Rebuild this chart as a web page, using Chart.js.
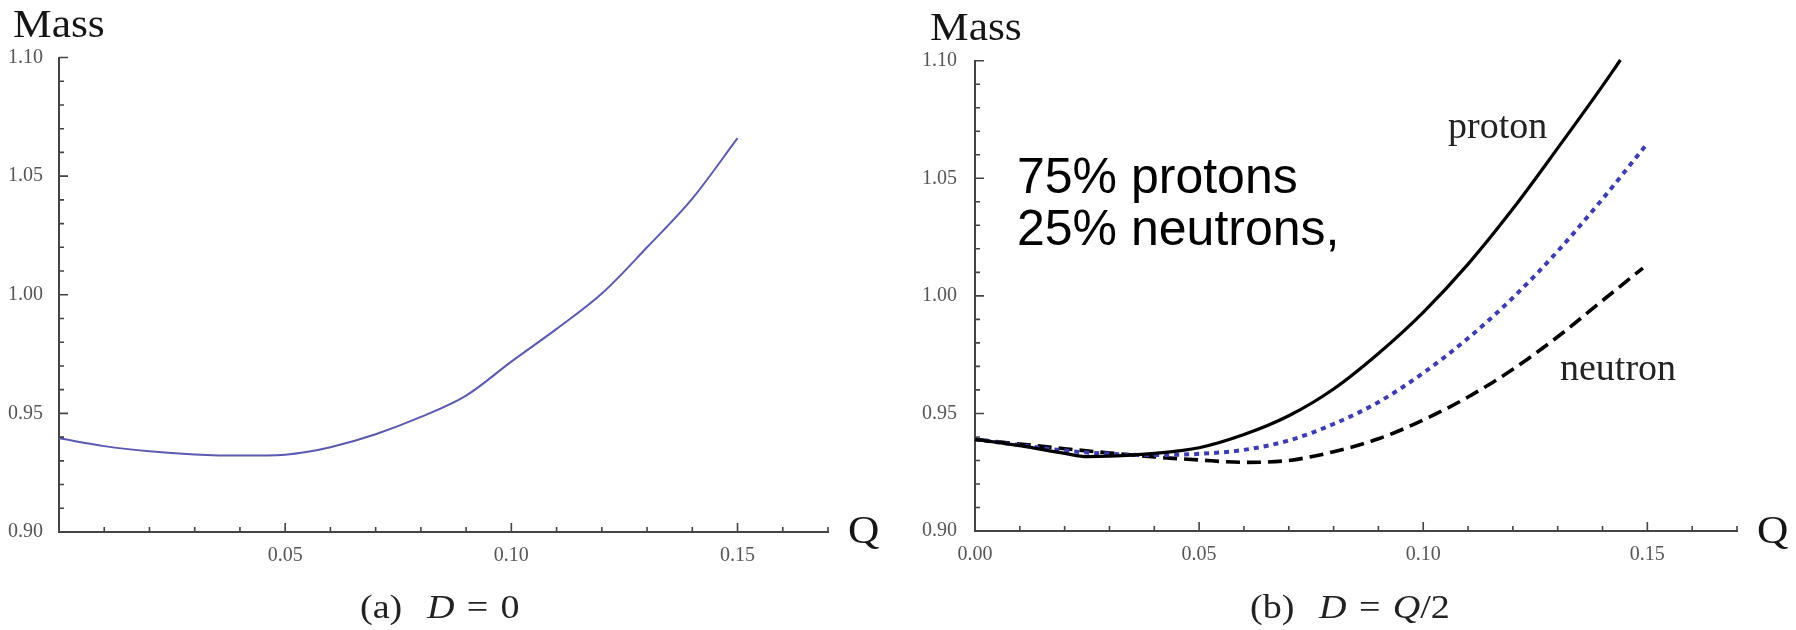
<!DOCTYPE html>
<html>
<head>
<meta charset="utf-8">
<title>Mass vs Q</title>
<script src="https://cdn.jsdelivr.net/npm/chart.js@4.4.1/dist/chart.umd.min.js"></script>
<style>
  html, body { margin: 0; padding: 0; background: #fff; }
  #page { position: relative; width: 1796px; height: 630px; overflow: hidden; }
  #page canvas { position: absolute; top: 0; }
  #leftChart { left: 0; }
  #rightChart { left: 898px; }
  .lbl {
    position: absolute;
    white-space: nowrap;
    line-height: 1;
    font-family: "Liberation Serif", "DejaVu Serif", serif;
    color: #151515;
    transform-origin: left top;
  }
  .axis-title { font-size: 41px; transform: scaleX(1.06); }
  .curve-name { font-size: 38px; color: #222; }
  .caption { font-size: 34px; color: #222; transform: scaleX(1.12); }
  .caption i { font-style: italic; }
  .note {
    position: absolute;
    left: 1017px;
    top: 150px;
    font-family: "Liberation Sans", Arial, sans-serif;
    font-size: 50px;
    line-height: 52px;
    color: #000;
    white-space: nowrap;
  }
</style>
</head>
<body>
<div id="page">
  <canvas id="leftChart" width="898" height="630"></canvas>
  <canvas id="rightChart" width="898" height="630"></canvas>

  <div class="lbl axis-title" style="left:13px; top:3px;">Mass</div>
  <div class="lbl axis-title" style="left:848px; top:509px;">Q</div>
  <div class="lbl axis-title" style="left:930px; top:6px;">Mass</div>
  <div class="lbl axis-title" style="left:1757px; top:509px;">Q</div>

  <div class="lbl curve-name" style="left:1448px; top:106px;">proton</div>
  <div class="lbl curve-name" style="left:1560px; top:348px;">neutron</div>

  <div class="note">75% protons<br>25% neutrons,</div>

  <div class="lbl caption" style="left:360px; top:590px;">(a)<span style="margin-left:22px"><i>D</i></span><span style="margin:0 11px">=</span>0</div>
  <div class="lbl caption" style="left:1250px; top:590px;">(b)<span style="margin-left:22px"><i>D</i></span><span style="margin:0 11px">=</span><i>Q</i>/2</div>
</div>

<script>
// (a) D = 0
const qLeft = [0, 0.01, 0.02, 0.03, 0.04, 0.05, 0.055, 0.06, 0.07, 0.08, 0.09, 0.10, 0.11, 0.12, 0.13, 0.14, 0.15];
const massLeft = [0.9395, 0.9362, 0.9340, 0.9327, 0.9322, 0.9326, 0.9338, 0.9357, 0.9412, 0.9485, 0.9575, 0.9718, 0.9856, 1.0005, 1.0200, 1.0405, 1.0660];

// (b) D = Q/2
const qProton = [0, 0.01, 0.02, 0.025, 0.03, 0.04, 0.05, 0.06, 0.07, 0.08, 0.09, 0.10, 0.11, 0.12, 0.13, 0.14, 0.144];
const protonMass = [0.939, 0.9363, 0.9330, 0.9316, 0.9318, 0.9330, 0.9354, 0.9410, 0.9490, 0.9604, 0.9755, 0.9930, 1.0135, 1.0370, 1.0628, 1.0893, 1.1003];

const qMix = [0, 0.01, 0.02, 0.03, 0.04, 0.05, 0.06, 0.07, 0.08, 0.09, 0.10, 0.11, 0.12, 0.13, 0.14, 0.15];
const mixMass = [0.939, 0.9365, 0.9342, 0.9328, 0.9323, 0.9328, 0.9345, 0.9385, 0.9455, 0.9548, 0.9672, 0.9820, 0.9992, 1.0190, 1.0412, 1.0648];

const qNeutron = [0, 0.01, 0.02, 0.03, 0.04, 0.05, 0.06, 0.07, 0.08, 0.09, 0.10, 0.11, 0.12, 0.13, 0.14, 0.149];
const neutronMass = [0.939, 0.9370, 0.9350, 0.9332, 0.9315, 0.9302, 0.9292, 0.9300, 0.9337, 0.9392, 0.9472, 0.9570, 0.9688, 0.9826, 0.9980, 1.0118];

const Q_MIN = 0, Q_MAX = 0.17;
const MASS_MIN = 0.90, MASS_MAX = 1.10;

const AXIS_COLOR = "#444";
const LABEL_COLOR = "#555";

function toPoints(xs, ys) {
  return xs.map((x, i) => ({ x, y: ys[i] }));
}

function isMajor(v) {
  return Math.round(v * 100) % 5 === 0;
}

// Mathematica-style frame ticks: pointing into the plot, long on multiples of 0.05
const inwardTicks = {
  id: "inwardTicks",
  afterDraw(chart) {
    const { ctx, chartArea } = chart;
    const xs = chart.scales.x;
    const ys = chart.scales.y;
    ctx.save();
    ctx.strokeStyle = AXIS_COLOR;
    ctx.lineWidth = 1.6;
    ctx.beginPath();
    xs.ticks.forEach((t) => {
      if (t.value === Q_MIN) return;
      const px = xs.getPixelForValue(t.value);
      const len = isMajor(t.value) ? 9 : 5;
      ctx.moveTo(px, chartArea.bottom);
      ctx.lineTo(px, chartArea.bottom - len);
    });
    ys.ticks.forEach((t) => {
      if (Math.abs(t.value - MASS_MIN) < 1e-6) return;
      const py = ys.getPixelForValue(t.value);
      const len = isMajor(t.value) ? 9 : 5;
      ctx.moveTo(chartArea.left, py);
      ctx.lineTo(chartArea.left + len, py);
    });
    ctx.stroke();
    ctx.restore();
  },
};

function makeOptions(cfg) {
  const tickFont = { family: "Liberation Serif", size: 20 };
  return {
    responsive: false,
    animation: false,
    events: [],
    layout: { padding: { left: 0, top: cfg.top, right: cfg.right, bottom: 0 } },
    plugins: { legend: { display: false }, tooltip: { enabled: false } },
    elements: { point: { radius: 0 } },
    scales: {
      x: {
        type: "linear",
        min: Q_MIN,
        max: Q_MAX,
        grid: { display: false },
        border: { display: true, color: AXIS_COLOR, width: 2 },
        afterFit: (scale) => { scale.height = cfg.xHeight; },
        ticks: {
          stepSize: 0.01,
          autoSkip: false,
          maxRotation: 0,
          padding: 4,
          color: LABEL_COLOR,
          font: tickFont,
          callback: (v) => {
            if (!cfg.showZero && Math.abs(v) < 1e-9) return "";
            return isMajor(v) ? Number(v).toFixed(2) : "";
          },
        },
      },
      y: {
        type: "linear",
        min: MASS_MIN,
        max: MASS_MAX,
        grid: { display: false },
        border: { display: true, color: AXIS_COLOR, width: 2 },
        afterFit: (scale) => { scale.width = cfg.yWidth; },
        ticks: {
          stepSize: 0.01,
          autoSkip: false,
          padding: cfg.yPad,
          color: LABEL_COLOR,
          font: tickFont,
          callback: (v) => (isMajor(v) ? Number(v).toFixed(2) : ""),
        },
      },
    },
  };
}

function main() {
  new Chart(document.getElementById("leftChart").getContext("2d"), {
    type: "line",
    data: {
      datasets: [
        {
          label: "D = 0",
          data: toPoints(qLeft, massLeft),
          borderColor: "#5a5ab2",
          borderWidth: 2,
          cubicInterpolationMode: "monotone",
          fill: false,
        },
      ],
    },
    options: makeOptions({ top: 57.5, right: 70, xHeight: 98, yWidth: 59, yPad: 8, showZero: false }),
    plugins: [inwardTicks],
  });

  new Chart(document.getElementById("rightChart").getContext("2d"), {
    type: "line",
    data: {
      datasets: [
        {
          label: "proton",
          data: toPoints(qProton, protonMass),
          borderColor: "#000",
          borderWidth: 3.2,
          cubicInterpolationMode: "monotone",
          fill: false,
          clip: false,
        },
        {
          label: "75% protons, 25% neutrons",
          data: toPoints(qMix, mixMass),
          borderColor: "#3c3cb4",
          borderWidth: 4,
          borderDash: [5, 5],
          cubicInterpolationMode: "monotone",
          fill: false,
        },
        {
          label: "neutron",
          data: toPoints(qNeutron, neutronMass),
          borderColor: "#000",
          borderWidth: 3.6,
          borderDash: [14, 7],
          cubicInterpolationMode: "monotone",
          fill: false,
        },
      ],
    },
    options: makeOptions({ top: 60.7, right: 59, xHeight: 99, yWidth: 77, yPad: 10, showZero: true }),
    plugins: [inwardTicks],
  });
}

document.addEventListener("DOMContentLoaded", main);
</script>
</body>
</html>
